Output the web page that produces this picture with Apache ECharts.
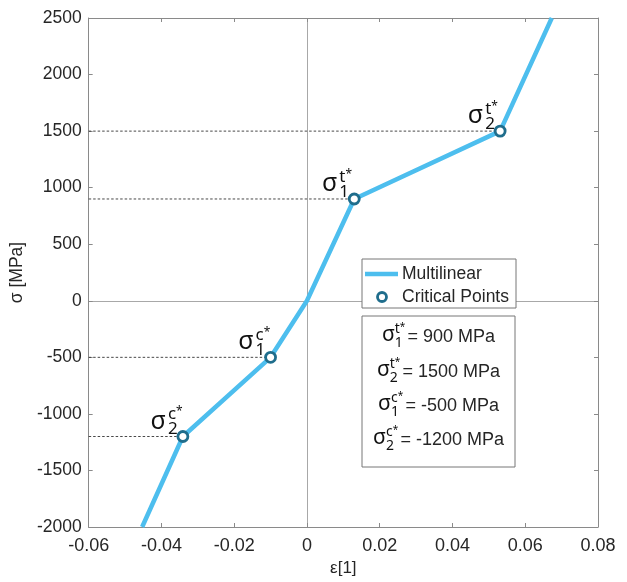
<!DOCTYPE html>
<html>
<head>
<meta charset="utf-8">
<script src="https://cdn.jsdelivr.net/npm/echarts@6/dist/echarts.min.js"></script>
<style>
  html, body { margin: 0; padding: 0; background: #fff; }
  #chart { width: 627px; height: 582px; }
</style>
</head>
<body>
<div id="chart"></div>
<script>
// Multilinear stress-strain curve (strain [-], stress [MPa])
const strain = [-0.0453, -0.0341, -0.0100, 0, 0.0130, 0.0531, 0.0673];
const stress = [-2000, -1200, -500, 0, 900, 1500, 2500];

// Critical points of the curve
const critStrain = [0.0130, 0.0531, -0.0100, -0.0341];
const critStress = [900, 1500, -500, -1200];
const critType = ['t', 't', 'c', 'c'];
const critIndex = ['1', '2', '1', '2'];

// Axis ranges
const xRange = { min: -0.06, max: 0.08, step: 0.02 };
const yRange = { min: -2000, max: 2500, step: 500 };

const LINE_COLOR = '#4DBEEE';
const MARK_COLOR = '#1f6d8c';
const AXIS_COLOR = '#8a8a8a';
const TEXT_COLOR = '#262626';
const SANS = '"Liberation Sans", Arial, sans-serif';
const SIGMA_FONT = '"Noto Sans", "DejaVu Sans", sans-serif';

const chart = echarts.init(document.getElementById('chart'), null, { renderer: 'canvas' });

const curve = strain.map((x, i) => [x, stress[i]]);
const crit = critStrain.map((x, i) => [x, critStress[i], i]);

// Superscript rich text: letter with a small raised asterisk
function supRich(letter, size) {
  return {
    text: '{a|' + letter + '}{b|*}',
    rich: {
      a: { font: size + 'px ' + SIGMA_FONT, fill: '#111' },
      b: { font: Math.round(size * 0.7) + 'px ' + SIGMA_FONT, fill: '#111', verticalAlign: 'top', padding: [0, 0, 4, 0] }
    }
  };
}

// Dashed guide from the y axis and the sigma label for each critical point
function renderCritical(params, api) {
  const x = api.value(0), y = api.value(1);
  const i = api.value(2);
  const p = api.coord([x, y]);
  const x0 = api.coord([xRange.min, y])[0];
  const sup = supRich(critType[i], 17);
  return {
    type: 'group',
    children: [
      {
        type: 'line',
        shape: { x1: x0, y1: p[1], x2: p[0], y2: p[1] },
        style: { stroke: '#333', lineWidth: 0.9, lineDash: [2.5, 2] }
      },
      {
        type: 'text', x: p[0] - 17, y: p[1] - 15,
        style: { text: 'σ', font: '25px ' + SIGMA_FONT, fill: '#111', align: 'right', verticalAlign: 'middle' }
      },
      {
        type: 'text', x: p[0] - 15, y: p[1] - 22,
        style: Object.assign({ align: 'left', verticalAlign: 'middle' }, sup)
      },
      {
        type: 'text', x: p[0] - 15, y: p[1] - 7,
        style: { text: critIndex[i], font: '17px ' + SIGMA_FONT, fill: '#111', align: 'left', verticalAlign: 'middle' }
      }
    ]
  };
}

// Text measurement for centring the value box lines
const measureCtx = document.createElement('canvas').getContext('2d');
function textWidth(str, font) {
  measureCtx.font = font;
  return measureCtx.measureText(str).width;
}

// Legend and value box
const graphics = [];
const legendBox = { x: 362, y: 259, w: 154, h: 49 };
graphics.push({
  type: 'rect', z: 100,
  shape: { x: legendBox.x, y: legendBox.y, width: legendBox.w, height: legendBox.h },
  style: { fill: '#fff', stroke: '#777', lineWidth: 1 }
});
graphics.push({
  type: 'line', z: 101,
  shape: { x1: 365, y1: 274, x2: 398, y2: 274 },
  style: { stroke: LINE_COLOR, lineWidth: 4.5 }
});
graphics.push({
  type: 'text', z: 101, x: 402, y: 274,
  style: { text: 'Multilinear', font: '17.5px ' + SANS, fill: TEXT_COLOR, verticalAlign: 'middle' }
});
graphics.push({
  type: 'circle', z: 101,
  shape: { cx: 382, cy: 297, r: 4.5 },
  style: { fill: '#fff', stroke: MARK_COLOR, lineWidth: 2.8 }
});
graphics.push({
  type: 'text', z: 101, x: 402, y: 297,
  style: { text: 'Critical Points', font: '17.5px ' + SANS, fill: TEXT_COLOR, verticalAlign: 'middle' }
});

const valueBox = { x: 362, y: 316, w: 153, h: 151 };
graphics.push({
  type: 'rect', z: 100,
  shape: { x: valueBox.x, y: valueBox.y, width: valueBox.w, height: valueBox.h },
  style: { fill: '#fff', stroke: '#777', lineWidth: 1 }
});
const rowY = [337, 372, 406, 440];
const boxCx = valueBox.x + valueBox.w / 2;
critStress.forEach((v, i) => {
  const sigmaFont = '21px ' + SIGMA_FONT;
  const scriptFont = '14px ' + SIGMA_FONT;
  const valueFont = '18px ' + SANS;
  const valueText = '= ' + v + ' MPa';
  const wSig = textWidth('σ', sigmaFont);
  const wScr = Math.max(textWidth(critType[i] + '*', scriptFont), textWidth(critIndex[i], scriptFont)) - 2;
  const wVal = textWidth(valueText, valueFont);
  const gap = 2;
  const total = wSig + wScr + gap + wVal;
  const x0 = boxCx - total / 2;
  const y = rowY[i];
  graphics.push({
    type: 'text', z: 101, x: x0, y: y - 2,
    style: { text: 'σ', font: sigmaFont, fill: '#111', verticalAlign: 'middle' }
  });
  graphics.push({
    type: 'text', z: 101, x: x0 + wSig, y: y - 8,
    style: Object.assign({ verticalAlign: 'middle' }, supRich(critType[i], 14))
  });
  graphics.push({
    type: 'text', z: 101, x: x0 + wSig, y: y + 6,
    style: { text: critIndex[i], font: scriptFont, fill: '#111', verticalAlign: 'middle' }
  });
  graphics.push({
    type: 'text', z: 101, x: x0 + wSig + wScr + gap, y: y,
    style: { text: valueText, font: valueFont, fill: TEXT_COLOR, verticalAlign: 'middle' }
  });
});

const fmtX = v => String(parseFloat(v.toFixed(2)));
const fmtY = v => String(Math.round(v));

const baseX = {
  type: 'value', min: xRange.min, max: xRange.max, interval: xRange.step,
  axisLine: { show: true, onZero: false, lineStyle: { color: AXIS_COLOR, width: 1 } },
  axisTick: { show: true, inside: true, length: 4, lineStyle: { color: AXIS_COLOR } },
  splitLine: { show: false }
};
const baseY = {
  type: 'value', min: yRange.min, max: yRange.max, interval: yRange.step,
  axisLine: { show: true, onZero: false, lineStyle: { color: AXIS_COLOR, width: 1 } },
  axisTick: { show: true, inside: true, length: 4, lineStyle: { color: AXIS_COLOR } },
  splitLine: { show: false }
};

chart.setOption({
  animation: false,
  backgroundColor: '#fff',
  grid: { left: 88, right: 29, top: 18, bottom: 55, containLabel: false },
  xAxis: [
    Object.assign({}, baseX, {
      position: 'bottom',
      name: 'ε[1]', nameLocation: 'middle', nameGap: 33,
      nameTextStyle: { fontFamily: SANS, fontSize: 17, color: TEXT_COLOR },
      axisLabel: { formatter: fmtX, fontFamily: SANS, fontSize: 18, color: TEXT_COLOR, margin: 10 }
    }),
    Object.assign({}, baseX, { position: 'top', axisLabel: { show: false } })
  ],
  yAxis: [
    Object.assign({}, baseY, {
      position: 'left',
      name: 'σ [MPa]', nameLocation: 'middle', nameGap: 55,
      nameTextStyle: { fontFamily: SANS, fontSize: 17.5, color: TEXT_COLOR },
      axisLabel: { formatter: fmtY, fontFamily: SANS, fontSize: 17.5, color: TEXT_COLOR, margin: 7 }
    }),
    Object.assign({}, baseY, { position: 'right', axisLabel: { show: false } })
  ],
  series: [
    {
      type: 'custom', name: 'guides', z: 1,
      renderItem: renderCritical,
      data: crit,
      clip: false,
      silent: true
    },
    {
      type: 'line', name: 'Multilinear', z: 3,
      data: curve,
      showSymbol: false, symbol: 'none',
      lineStyle: { color: LINE_COLOR, width: 4.5 },
      markLine: {
        silent: true, symbol: 'none', label: { show: false },
        lineStyle: { color: '#a8a8a8', width: 1, type: 'solid' },
        data: [{ xAxis: 0 }, { yAxis: 0 }],
        z: 0
      }
    },
    {
      type: 'scatter', name: 'Critical Points', z: 4,
      data: crit,
      symbol: 'circle', symbolSize: 10,
      itemStyle: { color: '#fff', borderColor: MARK_COLOR, borderWidth: 2.8, opacity: 1 }
    }
  ],
  graphic: graphics
});
</script>
</body>
</html>
